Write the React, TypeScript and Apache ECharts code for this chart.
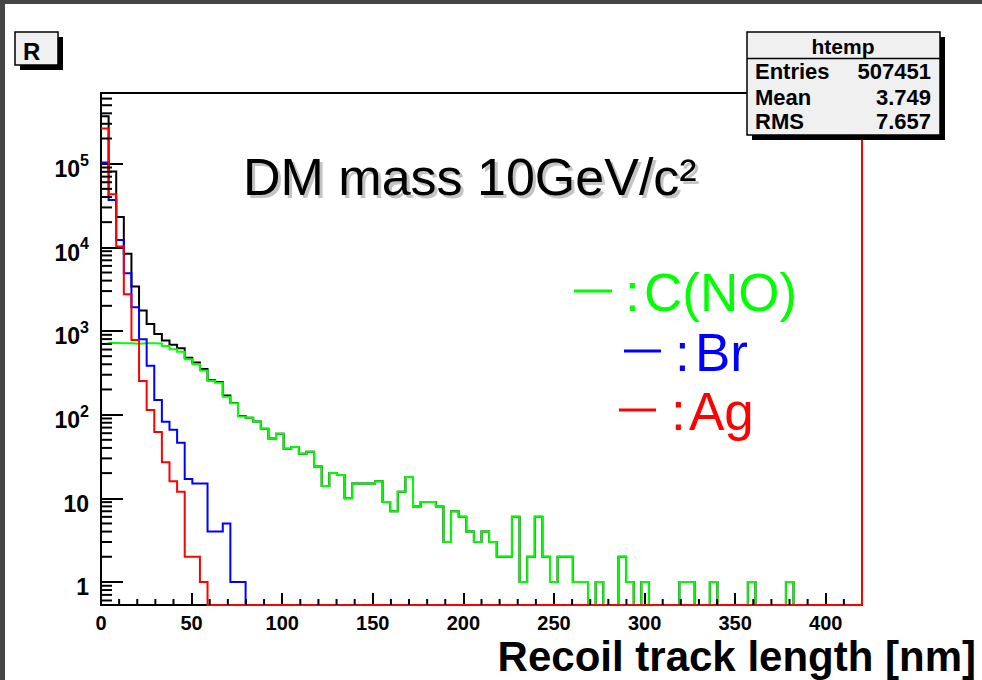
import React, { useEffect, useRef } from 'react';
import * as echarts from 'echarts';

const FONT = '"Liberation Sans", Arial, Helvetica, sans-serif';

// Histogram binning (ROOT htemp: 100 bins from 0 to 420 nm)
const BIN_WIDTH = 4.2;
const X_MIN = 0;
const X_MAX = 420;
const Y_MIN = 0.53;
const Y_MAX = 7.0e5;

// Entries per bin (bin i covers [4.2*i, 4.2*(i+1)) nm)
const totalCounts = [
  368000, 80500, 23100, 8370, 3400, 1760, 1210, 922, 771, 686,
  623, 478, 421, 352, 257, 245, 169, 138, 96, 92,
  83, 68, 52, 59, 39, 41, 34, 36, 24, 14,
  20, 19, 10, 15, 15, 15, 16, 9, 7, 12,
  18, 8, 9, 9, 8, 3, 7, 6, 4, 3,
  4, 3, 2, 2, 6, 1, 2, 6, 2, 1,
  2, 2, 1, 1, 0, 1, 0, 0, 2, 1,
  0, 1, 0, 0, 0, 0, 1, 1, 0, 0,
  1, 0, 0, 0, 0, 1, 0, 0, 0, 0,
  1, 0, 0, 0, 0, 0, 0, 0, 0, 0,
];

const carbonCounts = [
  700, 720, 715, 715, 705, 715, 712, 710, 662, 604,
  565, 459, 404, 336, 253, 241, 164, 137, 95, 92,
  83, 68, 52, 59, 39, 41, 34, 36, 24, 14,
  20, 19, 10, 15, 15, 15, 16, 9, 7, 12,
  18, 8, 9, 9, 8, 3, 7, 6, 4, 3,
  4, 3, 2, 2, 6, 1, 2, 6, 2, 1,
  2, 2, 1, 1, 0, 1, 0, 0, 2, 1,
  0, 1, 0, 0, 0, 0, 1, 1, 0, 0,
  1, 0, 0, 0, 0, 1, 0, 0, 0, 0,
  1, 0, 0, 0, 0, 0, 0, 0, 0, 0,
];

const bromineCounts = [
  103000, 36800, 12200, 4900, 1920, 795, 385, 150, 82, 66,
  46, 17, 15, 15, 4, 4, 5, 1, 1, 0,
  0, 0, 0, 0, 0, 0, 0, 0, 0, 0,
  0, 0, 0, 0, 0, 0, 0, 0, 0, 0,
  0, 0, 0, 0, 0, 0, 0, 0, 0, 0,
  0, 0, 0, 0, 0, 0, 0, 0, 0, 0,
  0, 0, 0, 0, 0, 0, 0, 0, 0, 0,
  0, 0, 0, 0, 0, 0, 0, 0, 0, 0,
  0, 0, 0, 0, 0, 0, 0, 0, 0, 0,
  0, 0, 0, 0, 0, 0, 0, 0, 0, 0,
];

const silverCounts = [
  264000, 43000, 10200, 2750, 780, 253, 114, 62, 27, 16,
  12, 2, 2, 1, 0, 0, 0, 0, 0, 0,
  0, 0, 0, 0, 0, 0, 0, 0, 0, 0,
  0, 0, 0, 0, 0, 0, 0, 0, 0, 0,
  0, 0, 0, 0, 0, 0, 0, 0, 0, 0,
  0, 0, 0, 0, 0, 0, 0, 0, 0, 0,
  0, 0, 0, 0, 0, 0, 0, 0, 0, 0,
  0, 0, 0, 0, 0, 0, 0, 0, 0, 0,
  0, 0, 0, 0, 0, 0, 0, 0, 0, 0,
  0, 0, 0, 0, 0, 0, 0, 0, 0, 0,
];

const legendLabels = ['C(NO)', 'Br', 'Ag'];
const legendColors = ['#00ff00', '#0000ff', '#ff0000'];

const statNames = ['Entries', 'Mean', 'RMS'];
const statValues = ['507451', '3.749', '7.657'];
const statTitle = 'htemp';

const chartTitle = 'DM mass 10GeV/c\u00b2';
const xAxisTitle = 'Recoil track length [nm]';

const xMajorInterval = 50;
const xMinorTicks = [
  10, 20, 30, 40, 60, 70, 80, 90, 110, 120, 130, 140, 160, 170, 180, 190,
  210, 220, 230, 240, 260, 270, 280, 290, 310, 320, 330, 340, 360, 370, 380, 390, 410,
];
const yDecades = [0.1, 1, 10, 100, 1000, 10000, 100000];
const yMinorMultipliers = [2, 3, 4, 5, 6, 7, 8, 9];

function toStep(counts: number[]) {
  const pts: number[][] = counts.map((c, i) => [X_MIN + i * BIN_WIDTH, c > 0 ? c : Y_MIN]);
  const last = counts[counts.length - 1];
  pts.push([X_MAX, last > 0 ? last : Y_MIN]);
  return pts;
}

function histSeries(name: string, counts: number[], color: string, z: number, extra: any = {}) {
  return {
    type: 'line',
    name,
    data: toStep(counts),
    step: 'end',
    symbol: 'none',
    showSymbol: false,
    silent: true,
    clip: true,
    z,
    lineStyle: { color, width: 2, join: 'miter', cap: 'butt' },
    itemStyle: { color },
    ...extra,
  };
}

// Decorative drop shadow of the title, drawn as an image so that only one real text remains
const shadowSvg =
  '<svg xmlns="http://www.w3.org/2000/svg" width="520" height="80">' +
  '<text x="0" y="60" font-family="Liberation Sans, Arial, sans-serif" font-size="52" fill="#c4c4c4">' +
  'DM mass 10GeV/c\u00b2</text></svg>';
const shadowUrl = 'data:image/svg+xml;charset=utf-8,' + encodeURIComponent(shadowSvg);

export default function App() {
  const ref = useRef<HTMLDivElement>(null);

  useEffect(() => {
    if (!ref.current) return;
    const chart = echarts.init(ref.current, null, { renderer: 'svg' });

    const yMinor: number[][] = [];
    yDecades.forEach((d) =>
      yMinorMultipliers.forEach((m) => {
        const v = m * d;
        if (v > Y_MIN && v < Y_MAX) yMinor.push([X_MIN, v]);
      })
    );
    const xMinor = xMinorTicks.map((x) => [x, Y_MIN]);

    const legendPos = [
      { dash: [574, 289.5, 38], colon: [625, 292], label: [644, 292] },
      { dash: [624, 349.5, 37], colon: [675, 352], label: [695, 352] },
      { dash: [619, 408.5, 37], colon: [671, 411], label: [689, 411] },
    ];

    const legendGraphics: any[] = [];
    legendLabels.forEach((lab, i) => {
      const p = legendPos[i];
      legendGraphics.push(
        { type: 'rect', z: 100, shape: { x: p.dash[0], y: p.dash[1], width: p.dash[2], height: 3 }, style: { fill: legendColors[i] } },
        { type: 'text', z: 100, x: p.colon[0], y: p.colon[1], style: { text: ':', fill: legendColors[i], font: `53px ${FONT}`, align: 'left', verticalAlign: 'middle' } },
        { type: 'text', z: 100, x: p.label[0], y: p.label[1], style: { text: lab, fill: legendColors[i], font: `53px ${FONT}`, align: 'left', verticalAlign: 'middle' } }
      );
    });

    const statRowsY = [71.7, 97.5, 121.7];
    const statGraphics: any[] = [
      { type: 'rect', z: 100, shape: { x: 752, y: 37, width: 193, height: 103 }, style: { fill: '#000' } },
      { type: 'rect', z: 101, shape: { x: 747, y: 32, width: 193, height: 103 }, style: { fill: '#f0f0f0', stroke: '#000', lineWidth: 1.5 } },
      { type: 'line', z: 102, shape: { x1: 747, y1: 58.5, x2: 940, y2: 58.5 }, style: { stroke: '#000', lineWidth: 1.5 } },
      { type: 'text', z: 102, x: 843, y: 46, style: { text: statTitle, fill: '#000', font: `bold 21px ${FONT}`, align: 'center', verticalAlign: 'middle' } },
    ];
    statNames.forEach((n, i) => {
      statGraphics.push(
        { type: 'text', z: 102, x: 755, y: statRowsY[i], style: { text: n, fill: '#000', font: `bold 22px ${FONT}`, align: 'left', verticalAlign: 'middle' } },
        { type: 'text', z: 102, x: 931, y: statRowsY[i], style: { text: statValues[i], fill: '#000', font: `bold 22px ${FONT}`, align: 'right', verticalAlign: 'middle' } }
      );
    });

    const option: any = {
      animation: false,
      backgroundColor: '#ffffff',
      grid: {
        left: 101,
        top: 93,
        width: 761,
        height: 512,
        show: true,
        borderColor: '#000',
        borderWidth: 2,
        backgroundColor: 'transparent',
      },
      xAxis: {
        type: 'value',
        min: X_MIN,
        max: X_MAX,
        interval: xMajorInterval,
        axisLine: { show: true, onZero: false, lineStyle: { color: '#000', width: 2 } },
        axisTick: { show: true, inside: true, length: 12, lineStyle: { color: '#000', width: 2 } },
        splitLine: { show: false },
        axisLabel: {
          show: true,
          margin: 8,
          color: '#000',
          fontFamily: FONT,
          fontWeight: 'bold',
          fontSize: 20,
          showMaxLabel: false,
          formatter: (v: number) => (v % xMajorInterval === 0 && v <= 400 ? String(v) : ''),
        },
      },
      yAxis: {
        type: 'log',
        logBase: 10,
        min: Y_MIN,
        max: Y_MAX,
        axisLine: { show: true, onZero: false, lineStyle: { color: '#000', width: 2 } },
        axisTick: { show: true, inside: true, length: 22, lineStyle: { color: '#000', width: 2 } },
        splitLine: { show: false },
        minorTick: { show: false },
        axisLabel: {
          show: true,
          margin: 12,
          color: '#000',
          fontFamily: FONT,
          fontWeight: 'bold',
          fontSize: 23,
          verticalAlign: 'middle',
          padding: [11, 0, 0, 0],
          formatter: (v: number) => {
            const e = Math.log10(v);
            const k = Math.round(e);
            if (Math.abs(e - k) > 1e-6) return '';
            if (k === 0) return '{b|1}';
            if (k === 1) return '{b|10}';
            return `{b|10}{s|${k}}`;
          },
          rich: {
            b: { fontFamily: FONT, fontWeight: 'bold', fontSize: 23, lineHeight: 34, color: '#000' },
            s: { fontFamily: FONT, fontWeight: 'bold', fontSize: 16, lineHeight: 14, verticalAlign: 'top', color: '#000' },
          },
        },
      },
      series: [
        histSeries('Total', totalCounts, '#000000', 2),
        histSeries('C(NO)', carbonCounts, '#00ff00', 3),
        histSeries('Br', bromineCounts, '#0000ff', 4),
        histSeries('Ag', silverCounts, '#ff0000', 5, {
          markLine: {
            silent: true,
            symbol: 'none',
            label: { show: false },
            lineStyle: { color: '#ff0000', width: 2, type: 'solid' },
            data: [{ xAxis: X_MAX }],
          },
        }),
        {
          type: 'custom',
          name: 'yMinorTicks',
          silent: true,
          z: 6,
          data: yMinor,
          encode: { x: 0, y: 1 },
          renderItem: (_p: any, api: any) => {
            const pt = api.coord([api.value(0), api.value(1)]);
            return {
              type: 'line',
              shape: { x1: pt[0], y1: pt[1], x2: pt[0] + 11, y2: pt[1] },
              style: { stroke: '#000', lineWidth: 2 },
            };
          },
        },
        {
          type: 'custom',
          name: 'xMinorTicks',
          silent: true,
          z: 6,
          data: xMinor,
          encode: { x: 0, y: 1 },
          renderItem: (_p: any, api: any) => {
            const pt = api.coord([api.value(0), api.value(1)]);
            return {
              type: 'line',
              shape: { x1: pt[0], y1: pt[1], x2: pt[0], y2: pt[1] - 6 },
              style: { stroke: '#000', lineWidth: 2 },
            };
          },
        },
      ],
      graphic: [
        { type: 'rect', z: 200, shape: { x: 0, y: 0, width: 5, height: 680 }, style: { fill: '#454545' } },
        { type: 'rect', z: 200, shape: { x: 0, y: 0, width: 982, height: 4 }, style: { fill: '#454545' } },
        // "R" badge
        { type: 'rect', z: 100, shape: { x: 20, y: 37, width: 43, height: 33 }, style: { fill: '#000' } },
        { type: 'rect', z: 101, shape: { x: 15, y: 32, width: 43, height: 33 }, style: { fill: '#f0f0f0', stroke: '#000', lineWidth: 1.5 } },
        { type: 'text', z: 102, x: 23, y: 51, style: { text: 'R', fill: '#000', font: `bold 24px ${FONT}`, align: 'left', verticalAlign: 'middle' } },
        // title drop shadow (image) and title
        { type: 'image', z: 100, silent: true, style: { image: shadowUrl, x: 246, y: 138, width: 520, height: 80 } },
        { type: 'text', z: 101, x: 243, y: 177, style: { text: chartTitle, fill: '#000', font: `52px ${FONT}`, align: 'left', verticalAlign: 'middle' } },
        // x axis title
        { type: 'text', z: 100, x: 976, y: 656.5, style: { text: xAxisTitle, fill: '#000', font: `bold 42px ${FONT}`, align: 'right', verticalAlign: 'middle' } },
        ...legendGraphics,
        ...statGraphics,
      ],
    };

    chart.setOption(option);
    return () => chart.dispose();
  }, []);

  return (
    <div
      ref={ref}
      style={{ position: 'fixed', left: 0, top: 0, width: 982, height: 680, background: '#fff' }}
    />
  );
}
